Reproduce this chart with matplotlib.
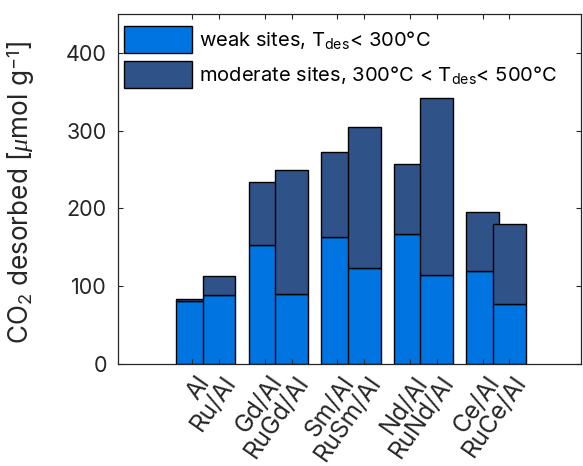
import numpy as np
import matplotlib
matplotlib.use("Agg")
import matplotlib.pyplot as plt
import matplotlib.transforms as mtransforms

plt.rcParams['font.family'] = ['Inter', 'DejaVu Sans']
plt.rcParams['mathtext.fontset'] = 'custom'
plt.rcParams['mathtext.rm'] = 'Inter'
plt.rcParams['mathtext.it'] = 'Liberation Serif:italic'

# CO2-TPD, desorbed amount split by site strength (umol/g)
samples = ['Al', 'Ru/Al', 'Gd/Al', 'RuGd/Al', 'Sm/Al', 'RuSm/Al',
           'Nd/Al', 'RuNd/Al', 'Ce/Al', 'RuCe/Al']
weak = [81, 88.5, 152.5, 89.5, 163, 124, 167, 114, 120, 77]
moderate = [3, 24.5, 82, 160, 110, 180.5, 90, 228.5, 76, 103.5]

weak_color = '#0074E0'
mod_color = '#2F5289'
text_color = '#262626'

# pairs of bars: bare support / Ru-loaded, overlapping slightly
pair_step = 2.72
width = 1.225
xpos = np.array([i // 2 * pair_step + i % 2 for i in range(len(samples))])

fig = plt.figure(figsize=(5.83, 4.66), dpi=100)
ax = fig.add_axes([0.2024, 0.2189, 0.7942, 0.7511])

weak = np.array(weak)
moderate = np.array(moderate)
for k in (0, 1):
    idx = np.arange(k, len(samples), 2)
    ax.bar(xpos[idx], weak[idx], width=width, color=weak_color,
           edgecolor='black', linewidth=1.0,
           label=r'weak sites, T$_{\mathrm{des}}$< 300°C' if k == 0 else None)
    ax.bar(xpos[idx], moderate[idx], bottom=weak[idx], width=width,
           color=mod_color, edgecolor='black', linewidth=1.0,
           label=r'moderate sites, 300°C < T$_{\mathrm{des}}$< 500°C' if k == 0 else None)

ax.set_xlim(-2.78, 14.56)
ax.set_ylim(0, 450)
ax.set_yticks([0, 100, 200, 300, 400])
ax.set_xticks(xpos)
ax.set_xticklabels([])

# rotated sample names, baseline end just below and right of each tick
shift = mtransforms.ScaledTranslation(18 / 100, -18 / 100, fig.dpi_scale_trans)
for x, name in zip(xpos, samples):
    ax.text(x, 0, name, transform=ax.get_xaxis_transform() + shift,
            rotation=55, rotation_mode='anchor', ha='right', va='baseline',
            fontsize=17.5, color=text_color)

ax.tick_params(axis='both', direction='in', length=3.5, width=0.8,
               top=True, right=True, labelsize=15.5, colors=text_color,
               labelcolor=text_color, pad=8)
for sp in ax.spines.values():
    sp.set_color(text_color)
    sp.set_linewidth(0.9)

ax.set_ylabel(r'CO$_2$ desorbed [$\mu$mol g$^{-1}$]', fontsize=18.8,
              color=text_color, va='baseline')
ax.yaxis.set_label_coords((29 - 118) / 463, 0.49)

leg_fs = 14.5
fs_px = leg_fs * 100 / 72
ax.legend(loc='upper left', bbox_to_anchor=(6 / 463, 1 - 12 / 350), frameon=False,
          fontsize=leg_fs, handlelength=68 / fs_px,
          handleheight=(26.7 / fs_px - 0.245) / 0.65,
          handletextpad=0.35, labelspacing=0.42, borderaxespad=0, borderpad=0)

fig.savefig('out.png', dpi=100)
